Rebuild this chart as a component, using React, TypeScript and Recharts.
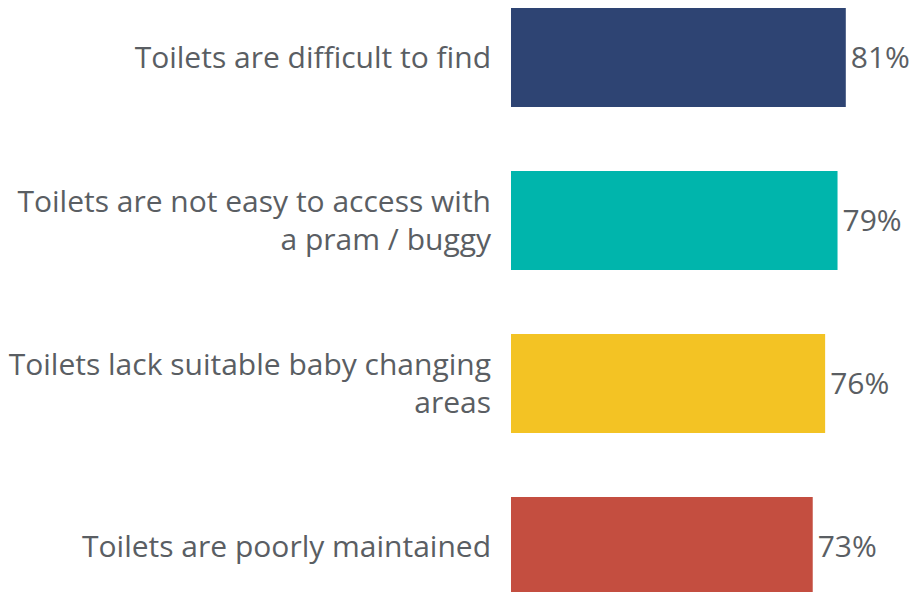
import React from 'react';
import { BarChart, Bar, XAxis, YAxis, Cell, LabelList } from 'recharts';

const categories: string[][] = [
    ['Toilets are difficult to find'],
    ['Toilets are not easy to access with', 'a pram / buggy'],
    ['Toilets lack suitable baby changing', 'areas'],
    ['Toilets are poorly maintained'],
];
const values = [81, 79, 76, 73];
const barColors = ['#2E4473', '#00B5AC', '#F3C324', '#C44E40'];

const TEXT_COLOR = '#5A5E63';
const FONT = '"Open Sans", sans-serif';

const chartData = categories.map((lines, i) => ({
    name: lines.join(' '),
    lines,
    value: values[i],
}));

const CategoryTick = (props: any) => {
    const { x, y, payload } = props;
    const row = chartData.find(d => d.name === payload.value);
    const lines = row ? row.lines : [payload.value];
    const lineHeight = 38;
    return (
        <g>
            {lines.map((line: string, i: number) => (
                <text
                    key={i}
                    x={x - 20}
                    y={y + 10 + (i - (lines.length - 1) / 2) * lineHeight}
                    textAnchor="end"
                    fill={TEXT_COLOR}
                    fontFamily={FONT}
                    fontSize={30}
                >
                    {line}
                </text>
            ))}
        </g>
    );
};

const App: React.FC = () => {
    return (
        <div style={{ position: 'fixed', top: 0, left: 0, width: 920, height: 592, overflow: 'hidden', background: '#fff' }}>
            <div style={{ position: 'absolute', top: -24, left: 0 }}>
                <BarChart
                    width={920}
                    height={652}
                    data={chartData}
                    layout="vertical"
                    margin={{ top: 0, right: 37, bottom: 0, left: 0 }}
                    barSize={99}
                >
                    <XAxis type="number" domain={[0, 90]} hide />
                    <YAxis
                        type="category"
                        dataKey="name"
                        width={511}
                        axisLine={false}
                        tickLine={false}
                        tickSize={0}
                        tickMargin={0}
                        interval={0}
                        tick={<CategoryTick />}
                    />
                    <Bar dataKey="value" isAnimationActive={false}>
                        {chartData.map((_, i) => (
                            <Cell key={i} fill={barColors[i]} />
                        ))}
                        <LabelList
                            dataKey="value"
                            position="right"
                            offset={5}
                            formatter={(v: any) => `${v}%`}
                            fill={TEXT_COLOR}
                            fontFamily={FONT}
                            fontSize={30}
                        />
                    </Bar>
                </BarChart>
            </div>
        </div>
    );
};

export default App;
